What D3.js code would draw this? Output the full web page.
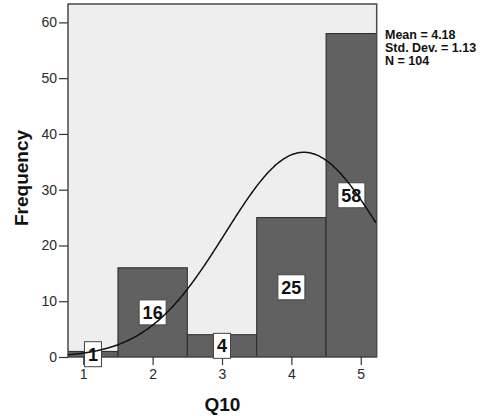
<!DOCTYPE html>
<html>
<head>
<meta charset="utf-8">
<script src="https://cdn.jsdelivr.net/npm/d3@7"></script>
<style>
  body { margin: 0; background: #fff; }
  svg { display: block; font-family: "Liberation Sans", Arial, sans-serif; }
</style>
</head>
<body>
<svg id="chart" width="489" height="416"></svg>
<script>
// histogram of Q10 with normal curve
var categories = [1, 2, 3, 4, 5];
var counts = [1, 16, 4, 25, 58];
var yTicks = [0, 10, 20, 30, 40, 50, 60];
var statLines = ["Mean = 4.18", "Std. Dev. = 1.13", "N = 104"];
var mean = 4.18, stdDev = 1.13, total = 104;

var svg = d3.select("#chart");

// plot frame (window.top is reserved, so plotTop etc.)
var plotLeft = 68, plotRight = 376.7, plotTop = 4, plotBottom = 357;

var x = d3.scaleLinear().domain([0.78, 5.23]).range([plotLeft, plotRight]);
var y = d3.scaleLinear().domain([0, 63.3]).range([plotBottom, plotTop]);

svg.append("defs").append("clipPath").attr("id", "plot-clip")
  .append("rect")
  .attr("x", plotLeft).attr("y", plotTop)
  .attr("width", plotRight - plotLeft).attr("height", plotBottom - plotTop);

svg.append("rect")
  .attr("x", plotLeft).attr("y", plotTop)
  .attr("width", plotRight - plotLeft).attr("height", plotBottom - plotTop)
  .style("fill", "#eeeeee");

var plot = svg.append("g").attr("clip-path", "url(#plot-clip)");

plot.selectAll("rect.bar")
  .data(categories)
  .enter().append("rect")
  .classed("bar", true)
  .attr("x", function(d) { return x(d - 0.5); })
  .attr("y", function(d, i) { return y(counts[i]); })
  .attr("width", function(d) { return x(d + 0.5) - x(d - 0.5); })
  .attr("height", function(d, i) { return y(0) - y(counts[i]); })
  .style("fill", "#616161")
  .style("stroke", "#2a2a2a")
  .style("stroke-width", 1);

// frame border
svg.append("rect")
  .attr("x", plotLeft).attr("y", plotTop)
  .attr("width", plotRight - plotLeft).attr("height", plotBottom - plotTop)
  .style("fill", "none")
  .style("stroke", "#4a4a4a")
  .style("stroke-width", 1.5);

// y axis
var yAxis = d3.axisLeft(y).tickValues(yTicks).tickSize(9).tickSizeOuter(0);
var gy = svg.append("g").attr("transform", "translate(" + plotLeft + ",0)").call(yAxis);
gy.select(".domain").remove();
gy.selectAll(".tick line").style("stroke", "#333").style("stroke-width", 1.2);
gy.selectAll(".tick text")
  .attr("x", -11)
  .style("font-size", "14px")
  .style("fill", "#2a2a2a")
  .style("font-family", "'Liberation Sans', Arial, sans-serif");

// x axis
var xAxis = d3.axisBottom(x).tickValues(categories).tickFormat(d3.format("d"))
  .tickSize(8).tickSizeOuter(0);
var gx = svg.append("g").attr("transform", "translate(0," + plotBottom + ")").call(xAxis);
gx.select(".domain").remove();
gx.selectAll(".tick line").style("stroke", "#333").style("stroke-width", 1.2);
gx.selectAll(".tick text")
  .attr("y", 12)
  .style("font-size", "14px")
  .style("fill", "#2a2a2a")
  .style("font-family", "'Liberation Sans', Arial, sans-serif");

// value labels, centred in the visible part of each bar
var labels = svg.append("g");
categories.forEach(function(d, i) {
  var x0 = Math.max(x(d - 0.5), plotLeft);
  var x1 = Math.min(x(d + 0.5), plotRight);
  var cx = (x0 + x1) / 2;
  var cy = y(counts[i] / 2);
  var g = labels.append("g").attr("transform", "translate(" + cx + "," + cy + ")");
  var t = g.append("text")
    .attr("text-anchor", "middle")
    .attr("dy", "0.36em")
    .style("font-size", "18px")
    .style("font-weight", "bold")
    .style("fill", "#111")
    .text(counts[i]);
  var w = t.node().getComputedTextLength() + 7;
  g.insert("rect", "text")
    .attr("x", -w / 2).attr("y", -12.5)
    .attr("width", w).attr("height", 25)
    .style("fill", "#fff")
    .style("stroke", "#444")
    .style("stroke-width", 1);
});

// normal curve from the stats shown
var curveX = d3.range(0.78, 5.2301, 0.02);
var line = d3.line()
  .x(function(v) { return x(v); })
  .y(function(v) {
    var z = (v - mean) / stdDev;
    return y(total * Math.exp(-0.5 * z * z) / (stdDev * Math.sqrt(2 * Math.PI)));
  })
  .curve(d3.curveBasis);

svg.append("g").attr("clip-path", "url(#plot-clip)")
  .append("path")
  .datum(curveX)
  .attr("d", line)
  .style("fill", "none")
  .style("stroke", "#111")
  .style("stroke-width", 1.5);

// stats text
svg.append("g").selectAll("text")
  .data(statLines)
  .enter().append("text")
  .attr("x", 385)
  .attr("y", function(d, i) { return 39 + i * 13; })
  .style("font-size", "12.5px")
  .style("font-weight", "bold")
  .style("fill", "#111")
  .text(function(d) { return d; });

// axis titles
svg.append("text")
  .attr("x", (plotLeft + plotRight) / 2)
  .attr("y", 411)
  .attr("text-anchor", "middle")
  .style("font-size", "19px")
  .style("font-weight", "bold")
  .style("fill", "#111")
  .text("Q10");

svg.append("text")
  .attr("transform", "translate(28,178) rotate(-90)")
  .attr("text-anchor", "middle")
  .style("font-size", "19px")
  .style("font-weight", "bold")
  .style("fill", "#111")
  .text("Frequency");
</script>
</body>
</html>
